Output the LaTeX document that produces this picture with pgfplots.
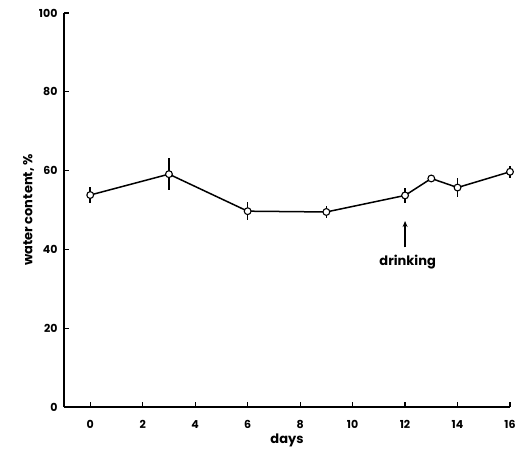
\documentclass[border=0pt]{standalone}
\usepackage{pgfplots}
\pgfplotsset{compat=1.18}
\usepackage{fontspec}
\setmainfont{Poppins}
\usetikzlibrary{arrows.meta}
\pgfplotstableread{
x y e
0 53.8 2
3 59.1 4
6 49.7 2.3
9 49.5 1.5
12 53.7 2
13 58.0 0.5
14 55.7 2.3
16 59.7 1.5
}\datatable
\begin{document}
\begin{tikzpicture}
\useasboundingbox (-64pt,-43pt) rectangle (462pt,407pt);
\begin{axis}[
  at={(0,0)}, anchor=south west,
  scale only axis, width=446pt, height=394pt,
  xmin=-1, xmax=16, ymin=0, ymax=100,
  axis x line=bottom, axis y line=left,
  axis line style={-, line width=1.4pt},
  tick align=inside, major tick length=5pt,
  tick style={line width=1.2pt, black},
  xtick={0,2,...,16}, ytick={0,20,...,100},
  /pgf/number format/assume math mode=true,
  ticklabel style={font=\fontsize{11}{13}\selectfont\bfseries},
  xticklabel style={yshift=-10pt},
  yticklabel style={xshift=-3pt},
  xlabel={days}, ylabel={water content, \%},
  xlabel style={font=\fontsize{13}{15}\selectfont\bfseries, yshift=2pt},
  ylabel style={font=\fontsize{13}{15}\selectfont\bfseries, yshift=-2pt},
  clip=false,
]
\addplot[draw=none, mark=none, forget plot,
  error bars/.cd, y dir=both, y explicit, error mark=none,
  error bar style={draw=black, line width=1.5pt}]
  table[x=x, y=y, y error=e]{\datatable};
\addplot[black, line width=1.5pt, mark=*, mark size=3.4pt,
  mark options={fill=white, draw=black, line width=1.1pt}]
  table[x=x, y=y]{\datatable};
\draw[-{Stealth[length=6pt,width=5pt]}, line width=1.3pt] (axis cs:12,40.5) -- (axis cs:12,47.2);
\node[font=\fontsize{13}{15}\selectfont\bfseries] at (axis cs:12.1,36.8) {drinking};
\end{axis}
\end{tikzpicture}
\end{document}
